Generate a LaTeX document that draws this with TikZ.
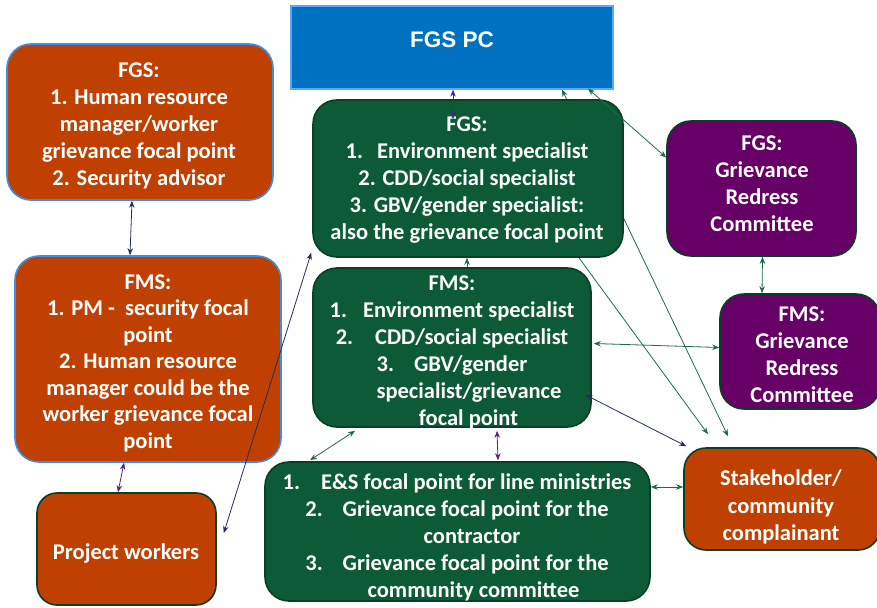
\documentclass[tikz,border=0pt]{standalone}
\usepackage{fontspec}
\setmainfont{Carlito}
\newfontfamily\arialf{Liberation Sans}
\usetikzlibrary{arrows.meta}
\definecolor{orangeC}{HTML}{BF4000}
\definecolor{lblue}{HTML}{3C8EE8}
\definecolor{greenC}{HTML}{0C5A36}
\definecolor{greenB}{HTML}{0A3F26}
\definecolor{purpleC}{HTML}{660066}
\definecolor{blueC}{HTML}{0070C0}
\definecolor{blueB}{HTML}{5AA8FF}
\definecolor{navyA}{HTML}{1F3060}
\definecolor{greenA}{HTML}{1E6B45}
\definecolor{purpleA}{HTML}{52208E}
\begin{document}
\begin{tikzpicture}[x=1pt,y=-1pt,
  box/.style={draw, line width=1.6pt, rounded corners=24pt, inner sep=0pt},
  obox/.style={box, fill=orangeC, draw=lblue},
  owbox/.style={box, fill=orangeC, draw=greenB, rounded corners=20pt},
  gbox/.style={box, fill=greenC, draw=greenB},
  pbox/.style={box, fill=purpleC, draw=greenB},
  txt/.style={text=white, font=\bfseries\fontsize{22.5}{27}\selectfont, align=center, inner sep=0pt},
  con/.style={line width=0.8pt, {Stealth[length=7pt,width=5.5pt]}-{Stealth[length=7pt,width=5.5pt]}},
  con1/.style={line width=0.8pt, -{Stealth[length=7pt,width=5.5pt]}},
]
\useasboundingbox (0,0) rectangle (877,607);

% boxes (positions)
\node[draw=blueB, fill=blueC, line width=1.2pt, minimum width=322pt, minimum height=83pt, inner sep=0pt] (pc) at (452,47.5) {};
\node[obox, minimum width=266pt, minimum height=156pt] (ofgs) at (140,122) {};
\node[obox, minimum width=266pt, minimum height=206pt] (ofms) at (148,359) {};
\node[owbox, minimum width=179pt, minimum height=112pt] (pw) at (126.5,549) {};
\node[pbox, minimum width=189pt, minimum height=135pt] (pfgs) at (761.5,188.5) {};
\node[pbox, minimum width=160pt, minimum height=115pt] (pfms) at (800,351.5) {};
\node[owbox, rounded corners=22pt, minimum width=196pt, minimum height=102pt] (sh) at (782,499) {};

% connector that runs behind the green FGS box
\draw[con, greenA] ([xshift=-54pt,yshift=11pt]sh.north) -- ([xshift=110pt]pc.south);

\node[gbox, minimum width=310pt, minimum height=157pt] (gfgs) at (468,178.5) {};
\node[gbox, minimum width=278pt, minimum height=159pt] (gfms) at (452,347.5) {};
\node[gbox, minimum width=385pt, minimum height=139pt] (gbot) at (457.5,531.5) {};

% texts
\node[text=white, font=\arialf\bfseries\fontsize{22.5}{26}\selectfont, inner sep=0pt] (pc-t) at (452,40) {FGS PC};
\node[txt] (ofgs-t) at (139,126) {FGS:\\1. Human resource\\manager/worker\\grievance focal point\\2. Security advisor};
\node[txt, font=\bfseries\fontsize{22.5}{26.5}\selectfont] (ofms-t) at (148,363) {FMS:\\1. PM -\ \ security focal\\point\\2. Human resource\\manager could be the\\worker grievance focal\\point};
\node[txt] (pw-t) at (126,553) {Project workers};
\node[txt] (gfgs-t) at (467,180.5) {FGS:\\1.\hspace{14pt}Environment specialist\\2. CDD/social specialist\\3. GBV/gender specialist:\\also the grievance focal point};
\node[txt] (gfms-t) at (452,352) {FMS:\\1.\hspace{16pt}Environment specialist\\2.\hspace{22pt}CDD/social specialist\\3.\hspace{20pt}GBV/gender\\\hspace*{34pt}specialist/grievance\\\hspace*{33pt}focal point};
\node[txt] (gbot-t) at (457,537.5) {1.\hspace{21pt}E\&S focal point for line ministries\\2.\hspace{20pt}Grievance focal point for the\\\hspace*{30pt}contractor\\3.\hspace{20pt}Grievance focal point for the\\\hspace*{33pt}community committee};
\node[txt] (pfgs-t) at (762,184) {FGS:\\Grievance\\Redress\\Committee};
\node[txt] (pfms-t) at (802,355) {FMS:\\Grievance\\Redress\\Committee};
\node[txt, font=\bfseries\fontsize{22.5}{27.5}\selectfont] (sh-t) at (781,507) {Stakeholder/\\community\\complainant};

% connectors
\draw[con, navyA] ([xshift=-8pt]ofgs.south) -- ([xshift=-18pt]ofms.north);
\draw[con, purpleA] ([xshift=-24pt]ofms.south) -- ([xshift=-8.5pt]pw.north);
\draw[con, navyA] ([xshift=-1pt,yshift=5pt]gfgs.south west) -- ([xshift=7pt,yshift=16pt]pw.east);
\draw[con, purpleA] ([xshift=1pt]pc.south) -- ([xshift=-15pt,yshift=-20pt]gfgs.north);
\draw[con1, greenA] ([xshift=111pt]gfgs.south) -- ([xshift=-74pt,yshift=13pt]sh.north);
\draw[con1, greenA] ([xshift=15pt]gfms.north) -- ([xshift=-1pt]gfgs.south);
\draw[con, greenA] ([xshift=136pt,yshift=1pt]pc.south) -- ([yshift=31pt]pfgs.west);
\draw[con, greenA] ([xshift=1pt]pfgs.south) -- ([xshift=-38pt]pfms.north);
\draw[con, greenA] ([xshift=2pt,yshift=4pt]gfms.east) -- ([yshift=4pt]pfms.west);
\draw[con, navyA] ([xshift=-6pt,yshift=-47.5pt]gfms.east) -- ([xshift=3pt,yshift=1pt]sh.north west);
\draw[con, greenA] ([xshift=-97pt,yshift=-3pt]gfms.south) -- ([xshift=-147.5pt,yshift=1pt]gbot.north);
\draw[con, purpleA] ([xshift=45pt,yshift=-3pt]gfms.south) -- ([xshift=40.5pt,yshift=1pt]gbot.north);
\draw[con, greenA] ([yshift=44.5pt]gbot.east) -- ([yshift=12pt]sh.west);
\end{tikzpicture}
\end{document}
